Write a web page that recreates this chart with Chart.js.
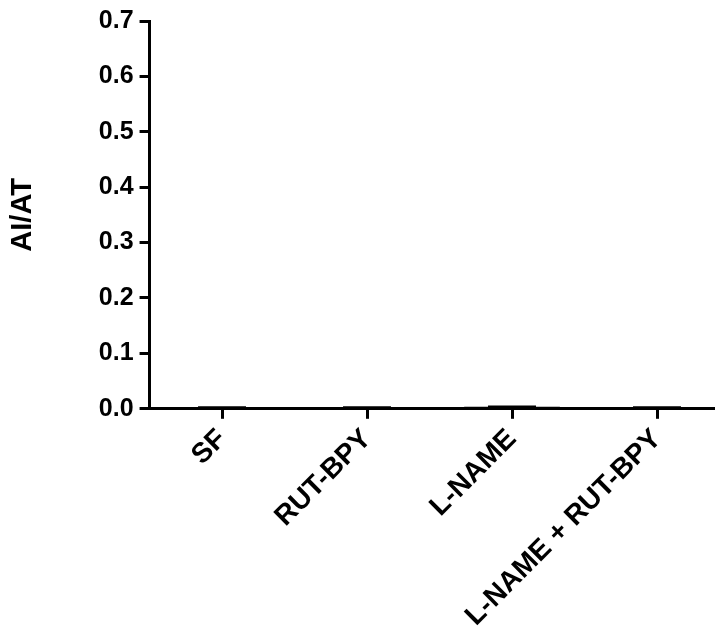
<!DOCTYPE html>
<html>
<head>
<meta charset="utf-8">
<script src="https://cdn.jsdelivr.net/npm/chart.js@4/dist/chart.umd.min.js"></script>
<style>
  html, body { margin: 0; padding: 0; background: #fff; }
  #wrap { width: 715px; height: 639px; }
</style>
</head>
<body>
<div id="wrap"><canvas id="c" width="715" height="639"></canvas></div>
<script>
// Groups and measured AI/AT values (mean and SEM)
const groups = ['SF', 'RUT-BPY', 'L-NAME', 'L-NAME + RUT-BPY'];
const meanValues = [0.002, 0.002, 0.003, 0.002];
const semValues = [0.001, 0.001, 0.001, 0.001];
const yTicks = [0, 0.1, 0.2, 0.3, 0.4, 0.5, 0.6, 0.7];

const FONT = 'Liberation Sans, Arial, Helvetica, sans-serif';

// Error bars (mean + SEM) drawn with the chart's own scales
const errorBars = {
  id: 'errorBars',
  afterDatasetsDraw(chart) {
    const { ctx, scales: { x, y } } = chart;
    ctx.save();
    ctx.strokeStyle = '#000';
    ctx.lineWidth = 2;
    meanValues.forEach((m, i) => {
      const cx = x.getPixelForValue(i);
      const top = y.getPixelForValue(m + semValues[i]);
      const base = y.getPixelForValue(m);
      ctx.beginPath();
      ctx.moveTo(cx, base);
      ctx.lineTo(cx, top);
      ctx.moveTo(cx - 24, top);
      ctx.lineTo(cx + 24, top);
      ctx.stroke();
    });
    ctx.restore();
  }
};

new Chart(document.getElementById('c'), {
  type: 'bar',
  data: {
    datasets: [{
      data: meanValues.map((v, i) => ({ x: i, y: v })),
      backgroundColor: '#000',
      borderColor: '#000',
      borderWidth: 0,
      barThickness: 95
    }]
  },
  options: {
    responsive: false,
    animation: false,
    layout: { padding: { top: 12, right: 0, left: 4, bottom: 2 } },
    plugins: { legend: { display: false }, tooltip: { enabled: false } },
    scales: {
      x: {
        type: 'linear',
        offset: false,
        min: -0.5,
        max: 3.4,
        afterBuildTicks: (s) => { s.ticks = groups.map((g, i) => ({ value: i })); },
        ticks: {
          callback: (v) => groups[v],
          color: '#000',
          font: { family: FONT, size: 28, weight: 'bold' },
          maxRotation: 45,
          minRotation: 45,
          padding: 4
        },
        grid: { offset: false, drawOnChartArea: false, drawTicks: true, tickLength: 10, color: '#000', lineWidth: 3 },
        border: { display: true, color: '#000', width: 3 }
      },
      y: {
        min: 0,
        max: 0.7,
        afterBuildTicks: (s) => { s.ticks = yTicks.map(v => ({ value: v })); },
        ticks: {
          callback: (v) => v.toFixed(1),
          color: '#000',
          font: { family: FONT, size: 25, weight: 'bold' },
          padding: 6
        },
        grid: { drawOnChartArea: false, drawTicks: true, tickLength: 10, color: '#000', lineWidth: 3 },
        border: { display: true, color: '#000', width: 3 },
        title: {
          display: true,
          text: 'AI/AT',
          color: '#000',
          font: { family: FONT, size: 29, weight: 'bold' },
          padding: { top: 2, bottom: 52 }
        }
      }
    }
  },
  plugins: [errorBars]
});
</script>
</body>
</html>
